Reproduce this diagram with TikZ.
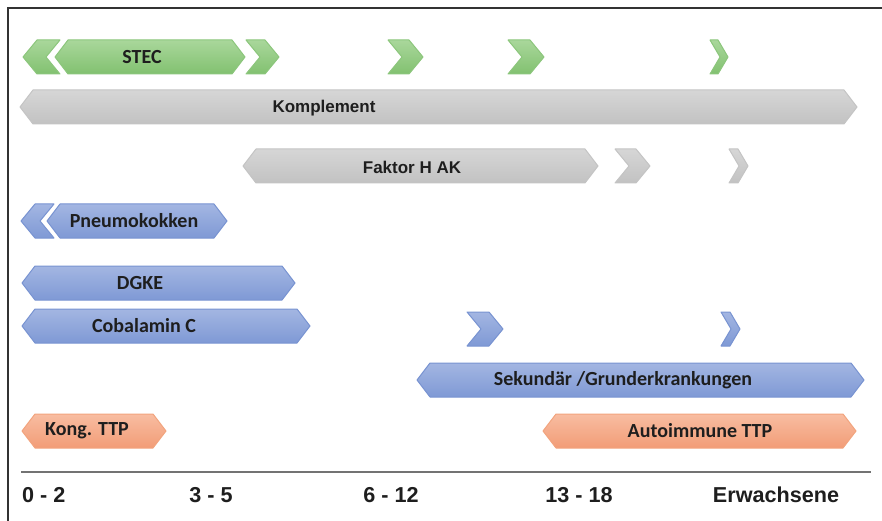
\documentclass[tikz,border=0pt]{standalone}
\usepackage{fontspec}
\newfontfamily\calfont{Carlito}
\newfontfamily\arifont{Liberation Sans}
\definecolor{gtop}{HTML}{A9D79B}
\definecolor{gbot}{HTML}{82C170}
\definecolor{gedge}{HTML}{8CC67C}
\definecolor{ktop}{HTML}{D6D6D6}
\definecolor{kbot}{HTML}{C2C2C2}
\definecolor{kedge}{HTML}{C4C4C4}
\definecolor{btop}{HTML}{A3B6E2}
\definecolor{bbot}{HTML}{7F99D5}
\definecolor{bedge}{HTML}{7893D1}
\definecolor{otop}{HTML}{F8BDA1}
\definecolor{obot}{HTML}{F29C77}
\definecolor{oedge}{HTML}{F2A47E}
\definecolor{txt}{HTML}{1E1E1E}
\tikzset{
  greenbar/.style={top color=gtop,bottom color=gbot,draw=gedge,line width=1pt,line join=round},
  graybar/.style={top color=ktop,bottom color=kbot,draw=kedge,line width=1pt,line join=round},
  bluebar/.style={top color=btop,bottom color=bbot,draw=bedge,line width=1pt,line join=round},
  orangebar/.style={top color=otop,bottom color=obot,draw=oedge,line width=1pt,line join=round},
  lbl/.style={text=txt,font=\calfont\bfseries\fontsize{20}{22}\selectfont,inner sep=0pt},
  albl/.style={text=txt,font=\arifont\bfseries\fontsize{17}{20}\selectfont,inner sep=0pt},
  axlbl/.style={text=txt,font=\arifont\bfseries\fontsize{21.6}{24}\selectfont,inner sep=0pt},
}
% hexagonal bar: x1, x2, yc, style
\newcommand{\hexbar}[4]{%
  \path[#4] (#1,#3) -- (#1+13,#3-17) -- (#2-13,#3-17) -- (#2,#3) -- (#2-13,#3+17) -- (#1+13,#3+17) -- cycle;}
% right chevron: x1, x2, yc, depth, style
\newcommand{\chevR}[5]{%
  \path[#5] (#1,#3-17) -- (#2-#4,#3-17) -- (#2,#3) -- (#2-#4,#3+17) -- (#1,#3+17) -- (#1+#4,#3) -- cycle;}
% left chevron: x1, x2, yc, depth, style
\newcommand{\chevL}[5]{%
  \path[#5] (#1,#3) -- (#1+#4,#3-17) -- (#2,#3-17) -- (#2-#4,#3) -- (#2,#3+17) -- (#1+#4,#3+17) -- cycle;}
\begin{document}
\begin{tikzpicture}[x=1pt,y=-1pt]
\useasboundingbox (0,0) rectangle (882,521);
% frame
\draw[line width=1.5pt,black!80] (8,521) -- (8,8) -- (882,8);
% STEC row
\chevL{23}{60}{57}{14}{greenbar}
\hexbar{55}{245}{57}{greenbar}
\chevR{246}{279}{57}{14}{greenbar}
\chevR{388}{423}{57}{14}{greenbar}
\chevR{508}{544}{57}{14}{greenbar}
\chevR{710}{728}{57}{10}{greenbar}
\node[lbl] (stec) at (142,57) {STEC};
% Komplement
\hexbar{20}{857}{107}{graybar}
\node[albl] (kompl) at (324,108) {Komplement};
% Faktor H AK
\hexbar{243}{598}{166}{graybar}
\chevR{615}{650}{166}{14}{graybar}
\chevR{729}{748}{166}{10}{graybar}
\node[albl] (fhak) at (412,167) {Faktor H AK};
% Pneumokokken
\chevL{21}{54}{221}{14}{bluebar}
\hexbar{47}{227}{221}{bluebar}
\node[lbl] (pneu) at (134,221) {Pneumokokken};
% DGKE
\hexbar{22}{295}{283}{bluebar}
\node[lbl] (dgke) at (140,283) {DGKE};
% Cobalamin C
\hexbar{22}{310}{326}{bluebar}
\chevR{467}{503}{329}{14}{bluebar}
\chevR{721}{740}{329}{10}{bluebar}
\node[lbl] (cobc) at (144,326) {Cobalamin C};
% Sekundaer
\hexbar{417}{864}{380}{bluebar}
\node[lbl] (sek) at (623,380) {Sekundär /Grunderkrankungen};
% TTP
\hexbar{22}{166}{431}{orangebar}
\node[lbl] (kong) at (87,431) {Kong. TTP};
\hexbar{543}{856}{431}{orangebar}
\node[lbl] (auto) at (700,431) {Autoimmune TTP};
% axis
\coordinate (axL) at (21,472);
\coordinate (axR) at (871,472);
\draw[line width=1.5pt,black!55] (axL) -- (axR);
\node[axlbl,anchor=west] (a1) at (22,495) {0 - 2};
\node[axlbl] (a2) at (211,495) {3 - 5};
\node[axlbl] (a3) at (391,495) {6 - 12};
\node[axlbl] (a4) at (579,495) {13 - 18};
\node[axlbl] (a5) at (776,495) {Erwachsene};
\end{tikzpicture}
\end{document}
